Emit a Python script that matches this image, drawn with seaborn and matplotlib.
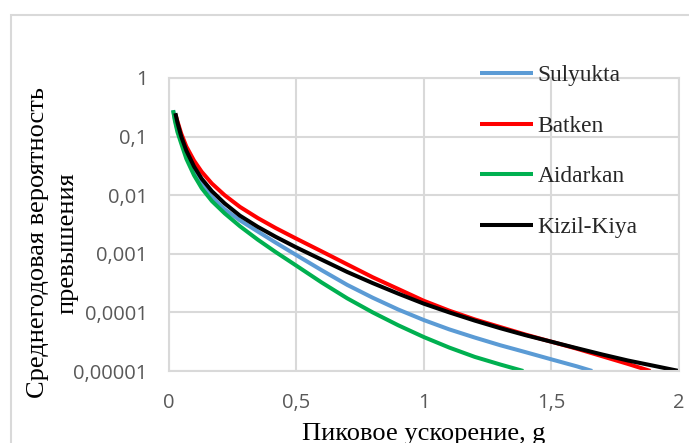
import numpy as np
import pandas as pd
import matplotlib
matplotlib.use("Agg")
import matplotlib.pyplot as plt
from matplotlib.patches import Rectangle
from matplotlib.ticker import FixedLocator, FixedFormatter
import seaborn as sns

# ---- data ----
series_names = ["Sulyukta", "Batken", "Aidarkan", "Kizil-Kiya"]
series_colors = ["#5B9BD5", "#FF0000", "#00B050", "#000000"]

pga_sulyukta = [0.018, 0.025, 0.035, 0.05, 0.07, 0.1, 0.13, 0.17, 0.22, 0.28, 0.35, 0.42, 0.5,
                0.6, 0.7, 0.8, 0.9, 1.0, 1.1, 1.2, 1.3, 1.4, 1.5, 1.6, 1.66]
prob_sulyukta = [0.282, 0.200, 0.132, 0.0851, 0.0501, 0.0263, 0.0151, 0.00933, 0.00575, 0.00372,
                 0.00240, 0.00155, 0.000955, 0.000525, 0.000295, 0.000178, 0.000112, 0.0000741,
                 0.0000513, 0.0000372, 0.0000275, 0.0000209, 0.0000158, 0.0000120, 0.0000100]

pga_batken = [0.027, 0.035, 0.05, 0.07, 0.1, 0.13, 0.17, 0.22, 0.28, 0.35, 0.42, 0.5,
              0.6, 0.7, 0.8, 0.9, 1.0, 1.1, 1.2, 1.3, 1.4, 1.5, 1.6, 1.7, 1.8, 1.888]
prob_batken = [0.240, 0.182, 0.112, 0.0676, 0.0389, 0.0251, 0.0158, 0.0100, 0.00631, 0.00407,
               0.00275, 0.00182, 0.00110, 0.000661, 0.000398, 0.000251, 0.000158, 0.000107,
               0.0000759, 0.0000562, 0.0000417, 0.0000316, 0.0000240, 0.0000178, 0.0000132, 0.0000100]

pga_aidarkan = [0.018, 0.025, 0.035, 0.05, 0.07, 0.1, 0.13, 0.17, 0.22, 0.28, 0.35, 0.42, 0.5,
                0.6, 0.7, 0.8, 0.9, 1.0, 1.1, 1.2, 1.3, 1.39]
prob_aidarkan = [0.282, 0.186, 0.120, 0.0759, 0.0417, 0.0219, 0.0132, 0.00794, 0.00490, 0.00295,
                 0.00174, 0.00107, 0.000631, 0.000324, 0.000174, 0.000100, 0.0000603, 0.0000380,
                 0.0000251, 0.0000174, 0.0000129, 0.0000100]

pga_kizil = [0.027, 0.035, 0.05, 0.07, 0.1, 0.13, 0.17, 0.22, 0.28, 0.35, 0.42, 0.5,
             0.6, 0.7, 0.8, 0.9, 1.0, 1.1, 1.2, 1.3, 1.4, 1.5, 1.6, 1.7, 1.8, 1.9, 2.0]
prob_kizil = [0.251, 0.174, 0.100, 0.0575, 0.0309, 0.0191, 0.0117, 0.00724, 0.00447, 0.00288,
              0.00195, 0.00129, 0.000794, 0.000490, 0.000316, 0.000209, 0.000141, 0.000100,
              0.0000724, 0.0000537, 0.0000407, 0.0000316, 0.0000245, 0.0000191, 0.0000151,
              0.0000123, 0.0000100]

x_ticks = [0, 0.5, 1, 1.5, 2]
x_tick_labels = ["0", "0,5", "1", "1,5", "2"]
y_ticks = [1e-5, 1e-4, 1e-3, 1e-2, 1e-1, 1]
y_tick_labels = ["0,00001", "0,0001", "0,001", "0,01", "0,1", "1"]

x_title = "Пиковое ускорение, g"
y_title = "Среднегодовая вероятность\nпревышения"

# ---- build long-form table ----
frames = []
for name, xs, ps in [("Sulyukta", pga_sulyukta, prob_sulyukta),
                     ("Batken", pga_batken, prob_batken),
                     ("Aidarkan", pga_aidarkan, prob_aidarkan),
                     ("Kizil-Kiya", pga_kizil, prob_kizil)]:
    frames.append(pd.DataFrame({"pga": xs, "prob": ps, "site": name}))
df = pd.concat(frames, ignore_index=True)

sns.set_theme(style="white")
plt.rcParams["font.family"] = ["Liberation Serif", "DejaVu Serif"]

W, H = 689, 443
fig = plt.figure(figsize=(W / 100, H / 100), dpi=100)
ax = fig.add_axes([168.5 / W, (H - 371) / H, (679 - 168.5) / W, (371 - 78) / H])

grid_c = "#D9D9D9"
sns.lineplot(data=df, x="pga", y="prob", hue="site", hue_order=series_names,
             palette=series_colors, estimator=None, sort=False, linewidth=2.9,
             ax=ax, legend=True)
for ln in ax.get_lines():
    ln.set_solid_capstyle("butt")
    ln.set_solid_joinstyle("round")

ax.set_yscale("log")
ax.set_xlim(0, 2)
ax.set_ylim(1e-5, 1)
ax.xaxis.set_major_locator(FixedLocator(x_ticks))
ax.xaxis.set_major_formatter(FixedFormatter(x_tick_labels))
ax.yaxis.set_major_locator(FixedLocator(y_ticks))
ax.yaxis.set_major_formatter(FixedFormatter(y_tick_labels))
ax.yaxis.set_minor_locator(FixedLocator([]))
ax.grid(True, which="major", color=grid_c, linewidth=1.5)
ax.set_axisbelow(True)
for s in ax.spines.values():
    s.set_color(grid_c)
    s.set_linewidth(1.5)
ax.tick_params(axis="both", length=0, colors="#595959", labelsize=14.5)
ax.tick_params(axis="y", pad=15)
ax.tick_params(axis="x", pad=16)
for lab in ax.get_xticklabels() + ax.get_yticklabels():
    lab.set_fontfamily(["Open Sans", "DejaVu Sans"])
ax.set_xlabel("")
ax.set_ylabel("")

# legend
handles, labels = ax.get_legend_handles_labels()
leg = ax.legend(handles, labels, loc="upper left",
                bbox_to_anchor=(480 / W, (H - 65) / H), bbox_transform=fig.transFigure,
                frameon=False, fontsize=16.8, handlelength=2.27, handletextpad=0.2,
                labelspacing=1.25, borderpad=0, borderaxespad=0)
for lh in leg.get_lines():
    lh.set_linewidth(2.9)

# axis titles
fig.text(423.5 / W, (H - 440) / H, x_title, ha="center", va="baseline",
         fontsize=19, color="black")
fig.text(53 / W, (H - 243) / H, y_title, ha="center", va="center",
         rotation=90, fontsize=19, color="black", multialignment="center", linespacing=1.42)

# outer chart border (partially cropped)
fig.add_artist(Rectangle((11 / W, -0.2), 2.0, (H - 15) / H + 0.2, transform=fig.transFigure,
                         fill=False, edgecolor=grid_c, linewidth=1.5))

fig.savefig("out.png", dpi=100)
